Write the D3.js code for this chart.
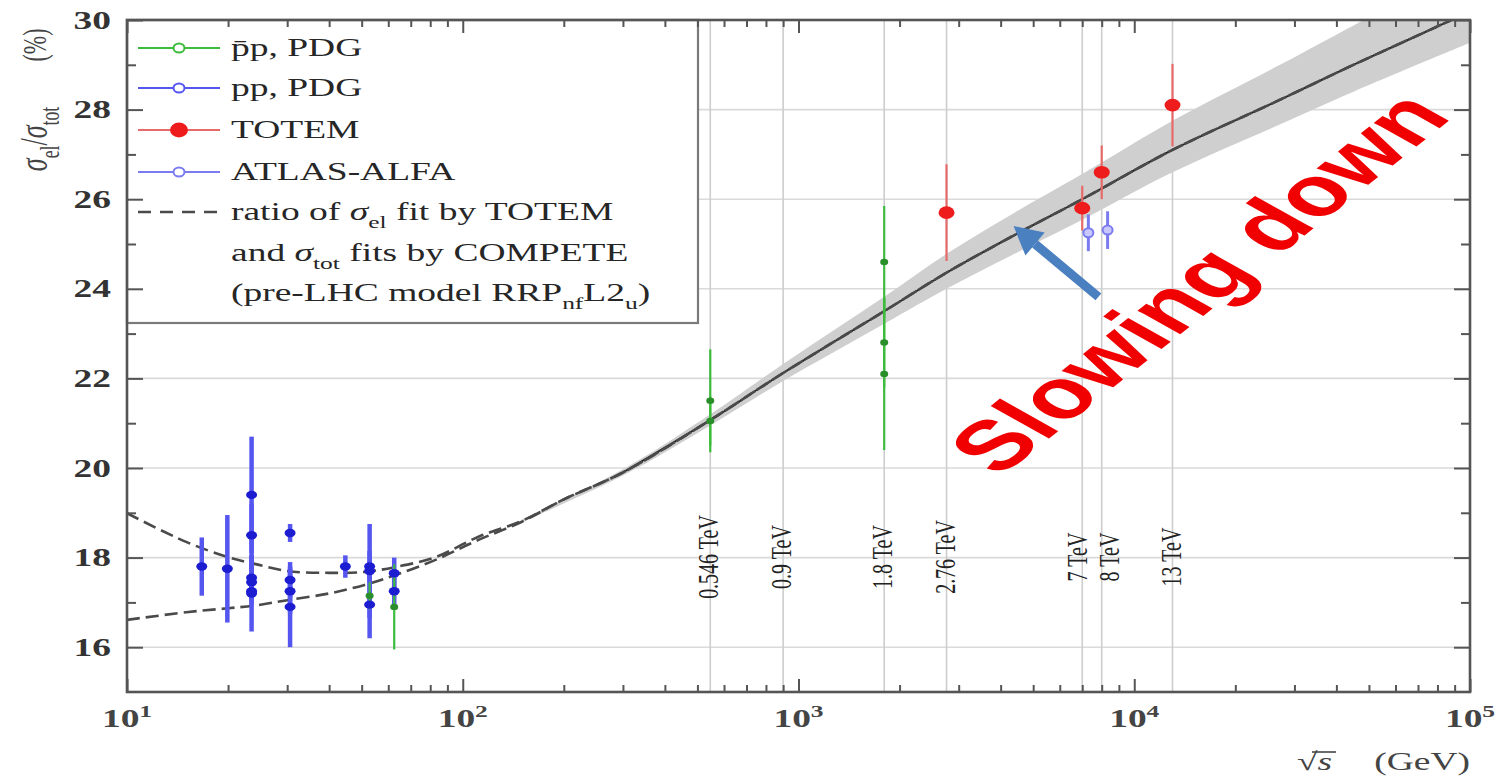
<!DOCTYPE html>
<html><head><meta charset="utf-8">
<script src="https://cdn.jsdelivr.net/npm/d3@7"></script>
<style>body{margin:0;background:#fff}svg{display:block}</style>
</head><body>
<svg id="c" width="1502" height="777"></svg>
<script>
// ---------- data ----------
const fitEnergy = [10, 15, 20, 24, 30, 40, 51, 63, 83, 111, 150, 200, 300, 546, 900, 1800, 2760, 4400, 7000, 13000, 27000, 45000, 76000, 100000];
const fitUpper  = [18.99, 18.35, 18.01, 17.86, 17.70, 17.66, 17.68, 17.79, 18.01, 18.46, 18.82, 19.30, 19.90, 21.07, 22.12, 23.50, 24.36, 25.20, 26.00, 27.10, 28.21, 29.00, 29.78, 30.19];
const fitLower  = [16.61, 16.78, 16.87, 16.93, 17.05, 17.20, 17.39, 17.61, 17.95, 18.39, 18.80, 19.30, 19.90, 21.07, 22.12, 23.50, 24.36, 25.20, 26.00, 27.10, 28.21, 29.00, 29.78, 30.19];

const bandEnergy = [150, 300, 546, 900, 1800, 2760, 4400, 7000, 13000, 27000, 45000, 100000];
const bandHigh   = [18.85, 19.97, 21.20, 22.32, 23.82, 24.78, 25.70, 26.56, 27.75, 28.99, 29.88, 31.24];
const bandLow    = [18.79, 19.83, 20.95, 21.94, 23.22, 24.00, 24.78, 25.54, 26.60, 27.66, 28.40, 29.49];

// p̄p, PDG (green)
const pbarpEnergy = [52.8, 62.5, 546, 546, 1800, 1800, 1800];
const pbarpValue  = [17.15, 16.90, 21.50, 21.05, 24.60, 22.80, 22.10];
const pbarpError  = [0.30, 0.95, 1.15, 0.55, 1.25, 1.00, 1.70];

// pp, PDG (blue)
const ppEnergy = [16.7, 19.9, 23.5, 23.5, 23.5, 23.5, 23.5, 23.5, 30.6, 30.6, 30.6, 30.6, 44.7, 52.8, 52.8, 52.8, 62.5, 62.5];
const ppValue  = [17.80, 17.75, 19.40, 18.50, 17.55, 17.45, 17.25, 17.20, 18.55, 17.50, 17.25, 16.90, 17.80, 17.80, 17.70, 16.95, 17.65, 17.25];
const ppError  = [0.65, 1.20, 1.30, 0.70, 0.50, 0.40, 0.30, 0.85, 0.20, 0.40, 0.50, 0.90, 0.25, 0.35, 1.05, 0.75, 0.35, 0.40];

// TOTEM
const totemEnergy = [2760, 7000, 8000, 13000];
const totemValue  = [25.70, 25.80, 26.60, 28.10];
const totemError  = [1.08, 0.50, 0.60, 0.92];

// ATLAS-ALFA
const alfaEnergy = [7300, 8330];
const alfaValue  = [25.25, 25.31];
const alfaError  = [0.41, 0.42];

// reference energies
const markEnergy  = [546, 900, 1800, 2760, 7000, 8000, 13000];
const markLabel   = ["0.546 TeV", "0.9 TeV", "1.8 TeV", "2.76 TeV", "7 TeV", "8 TeV", "13 TeV"];
const markLabelDx = [0, 0, 0, 0, -3, 9, 0];

// ticks
const yMajor = [16, 18, 20, 22, 24, 26, 28, 30];
const yMinor = [17, 19, 21, 23, 25, 27, 29];
const yGrid  = [16, 18, 20, 22, 24, 26, 28];
const xExponents = [1, 2, 3, 4, 5];

// annotation (data coordinates)
const arrowTail = [7820, 23.82];
const arrowTip  = [4370, 25.40];
const noteAt    = [15500, 24.15];
const noteText  = "Slowing down";

// ---------- layout ----------
const X0 = 127, X1 = 1470, Y0 = 692, Y1 = 20;
const SX = 1.5;                // horizontal stretch of the source picture
const SERIF = "'Liberation Serif','DejaVu Serif',serif";
const SANS = "'Liberation Sans',Arial,sans-serif";
const C = {green:'#3dbb3d', greenDot:'#2a8f2a', blue:'#5555f0', blueDot:'#1c1cd0',
           red:'#ee1c1c', redBar:'#e66a6a', alfa:'#7b7bf0', frame:'#555', grid:'#dadada',
           band:'#cfcfcf', dash:'#4a4a4a', text:'#262626'};

const svg = d3.select('#c');
const x = d3.scaleLog().domain([10, 1e5]).range([X0, X1]);
const y = d3.scaleLinear().domain([15, 30]).range([Y0, Y1]);

svg.append('rect').attr('width', 1502).attr('height', 777).attr('fill', '#fff');
svg.append('clipPath').attr('id', 'clip').append('rect')
  .attr('x', X0).attr('y', Y1).attr('width', X1 - X0).attr('height', Y0 - Y1);

function rich(t, parts, fs) {
  let shift = 0;
  parts.forEach(p => {
    const ts = t.append('tspan').text(p.t);
    if (p.it) ts.attr('font-style', 'italic');
    const target = p.sub ? fs * 0.32 : (p.sup ? -fs * 0.42 : 0);
    if (target !== shift) { ts.attr('dy', target - shift); shift = target; }
    if (p.sub || p.sup) ts.attr('font-size', fs * 0.68);
  });
}
function stext(parent, px, py, o) {
  const g = parent.append('g')
    .attr('transform', `translate(${px},${py}) scale(${o.sx || SX},1)` + (o.rot ? ` rotate(${o.rot})` : ''));
  const t = g.append('text').attr('font-family', o.font || SERIF).attr('font-size', o.fs || 25)
    .attr('fill', o.fill || C.text).attr('text-anchor', o.anchor || 'start');
  if (o.weight) t.attr('font-weight', o.weight);
  if (o.baseline) t.attr('dominant-baseline', o.baseline);
  if (o.parts) rich(t, o.parts, o.fs || 25); else t.text(o.text);
  return t;
}

// ---------- grid ----------
const gGrid = svg.append('g');
gGrid.selectAll('line.h').data(yGrid).join('line')
  .attr('x1', X0).attr('x2', X1).attr('y1', d => y(d)).attr('y2', d => y(d))
  .attr('stroke', C.grid).attr('stroke-width', 1.6);
gGrid.selectAll('line.v').data(markEnergy).join('line')
  .attr('x1', d => x(d)).attr('x2', d => x(d)).attr('y1', Y1).attr('y2', Y0)
  .attr('stroke', '#cdcdcd').attr('stroke-width', 1.6);
markEnergy.forEach((e, i) => {
  stext(svg, x(e) + 8 + markLabelDx[i], 557, {text: markLabel[i], fs: 20, rot: -90, anchor: 'middle', fill: '#222'});
});

// ---------- band and fit curves ----------
const gPlot = svg.append('g').attr('clip-path', 'url(#clip)');
const bandData = bandEnergy.map((e, i) => [e, bandLow[i], bandHigh[i]]);
gPlot.append('path').datum(bandData)
  .attr('d', d3.area().x(d => x(d[0])).y0(d => y(d[1])).y1(d => y(d[2])).curve(d3.curveCatmullRom))
  .attr('fill', C.band);
const line = d3.line().x(d => x(d[0])).y(d => y(d[1])).curve(d3.curveCatmullRom);
const upper = fitEnergy.map((e, i) => [e, fitUpper[i]]);
const lower = fitEnergy.map((e, i) => [e, fitLower[i]]);
gPlot.append('path').datum(upper.filter(d => d[0] >= 300)).attr('d', line)
  .attr('fill', 'none').attr('stroke', '#1e1e1e').attr('stroke-width', 1.8);
[upper, lower].forEach(dat => {
  gPlot.append('path').datum(dat).attr('d', line)
    .attr('fill', 'none').attr('stroke', C.dash).attr('stroke-width', 2.6)
    .attr('stroke-dasharray', '13,6');
});

// ---------- data points ----------
function errSeries(E, V, S, barColor, barW) {
  gPlot.append('g').selectAll('line').data(E.map((e, i) => [e, V[i], S[i]])).join('line')
    .attr('x1', d => x(d[0])).attr('x2', d => x(d[0]))
    .attr('y1', d => y(d[1] - d[2])).attr('y2', d => y(d[1] + d[2]))
    .attr('stroke', barColor).attr('stroke-width', barW);
}
errSeries(ppEnergy, ppValue, ppError, C.blue, 4.5);
errSeries(pbarpEnergy, pbarpValue, pbarpError, C.green, 2.2);
errSeries(totemEnergy, totemValue, totemError, C.redBar, 2.2);
errSeries(alfaEnergy, alfaValue, alfaError, C.alfa, 3);

gPlot.append('g').selectAll('ellipse').data(ppEnergy.map((e, i) => [e, ppValue[i]])).join('ellipse')
  .attr('cx', d => x(d[0])).attr('cy', d => y(d[1])).attr('rx', 5.5).attr('ry', 4.2)
  .attr('fill', C.blueDot);
gPlot.append('g').selectAll('ellipse').data(pbarpEnergy.map((e, i) => [e, pbarpValue[i]])).join('ellipse')
  .attr('cx', d => x(d[0])).attr('cy', d => y(d[1])).attr('rx', 4).attr('ry', 3.2)
  .attr('fill', C.greenDot);
gPlot.append('g').selectAll('ellipse').data(totemEnergy.map((e, i) => [e, totemValue[i]])).join('ellipse')
  .attr('cx', d => x(d[0])).attr('cy', d => y(d[1])).attr('rx', 8).attr('ry', 6.3)
  .attr('fill', C.red);
gPlot.append('g').selectAll('ellipse').data(alfaEnergy.map((e, i) => [e, alfaValue[i]])).join('ellipse')
  .attr('cx', d => x(d[0])).attr('cy', d => y(d[1])).attr('rx', 5).attr('ry', 4.5)
  .attr('fill', '#c8c8ff').attr('stroke', C.alfa).attr('stroke-width', 2);

// ---------- legend ----------
const legendRows = [
  {kind: 'open', color: C.green, parts: [{t: 'p\u0304p, PDG'}]},
  {kind: 'open', color: C.blue, parts: [{t: 'pp, PDG'}]},
  {kind: 'filled', color: C.red, parts: [{t: 'TOTEM'}]},
  {kind: 'open', color: C.alfa, parts: [{t: 'ATLAS-ALFA'}]},
  {kind: 'dash', parts: [{t: 'ratio of '}, {t: 'σ', it: true}, {t: 'el', sub: true}, {t: ' fit by TOTEM'}]},
  {kind: 'none', parts: [{t: 'and '}, {t: 'σ', it: true}, {t: 'tot', sub: true}, {t: ' fits by COMPETE'}]},
  {kind: 'none', parts: [{t: '(pre-LHC model RRP'}, {t: 'nf', sub: true}, {t: 'L2'}, {t: 'u', sub: true}, {t: ')'}]}
];
const legendY = [48, 88, 130, 172, 212, 253, 293];
const gL = svg.append('g');
gL.append('rect').attr('x', X0).attr('y', Y1).attr('width', 571).attr('height', 303)
  .attr('fill', '#fff').attr('stroke', '#7a7a7a').attr('stroke-width', 2.2);
legendRows.forEach((r, i) => {
  const ly = legendY[i];
  if (r.kind === 'open' || r.kind === 'filled') {
    gL.append('line').attr('x1', 138).attr('x2', 220).attr('y1', ly).attr('y2', ly)
      .attr('stroke', r.kind === 'filled' ? C.redBar : r.color).attr('stroke-width', 2);
    gL.append('ellipse').attr('cx', 179).attr('cy', ly)
      .attr('rx', r.kind === 'filled' ? 8 : 5.5).attr('ry', r.kind === 'filled' ? 6.5 : 4.5)
      .attr('fill', r.kind === 'filled' ? r.color : '#fff')
      .attr('stroke', r.color).attr('stroke-width', 2);
  } else if (r.kind === 'dash') {
    gL.append('line').attr('x1', 138).attr('x2', 220).attr('y1', ly).attr('y2', ly)
      .attr('stroke', C.dash).attr('stroke-width', 2.4).attr('stroke-dasharray', '13,9');
  }
  stext(gL, 231, ly + 8, {parts: r.parts, fs: 25});
});

// ---------- axes ----------
const gAx = svg.append('g');
function styleAxis(g) {
  g.select('.domain').remove();
  g.selectAll('line').attr('stroke', C.frame).attr('stroke-width', 2);
}
const xAll = x.ticks();
const xMajorVals = xExponents.map(p => Math.pow(10, p));
const xMinorVals = xAll.filter(v => !xMajorVals.some(m => Math.abs(m - v) < 1e-6));
gAx.append('g').attr('transform', `translate(0,${Y0})`)
  .call(d3.axisBottom(x).tickValues(xMajorVals).tickSize(-13).tickFormat('')).call(styleAxis);
gAx.append('g').attr('transform', `translate(0,${Y0})`)
  .call(d3.axisBottom(x).tickValues(xMinorVals).tickSize(-7).tickFormat('')).call(styleAxis);
gAx.append('g').attr('transform', `translate(0,${Y1})`)
  .call(d3.axisTop(x).tickValues(xMajorVals).tickSize(-13).tickFormat('')).call(styleAxis);
gAx.append('g').attr('transform', `translate(0,${Y1})`)
  .call(d3.axisTop(x).tickValues(xMinorVals).tickSize(-7).tickFormat('')).call(styleAxis);
gAx.append('g').attr('transform', `translate(${X0},0)`)
  .call(d3.axisLeft(y).tickValues(yMajor).tickSize(-16).tickFormat('')).call(styleAxis);
gAx.append('g').attr('transform', `translate(${X0},0)`)
  .call(d3.axisLeft(y).tickValues(yMinor).tickSize(-9).tickFormat('')).call(styleAxis);
gAx.append('g').attr('transform', `translate(${X1},0)`)
  .call(d3.axisRight(y).tickValues(yMajor).tickSize(-16).tickFormat('')).call(styleAxis);
gAx.append('g').attr('transform', `translate(${X1},0)`)
  .call(d3.axisRight(y).tickValues(yMinor).tickSize(-9).tickFormat('')).call(styleAxis);
gAx.append('rect').attr('x', X0).attr('y', Y1).attr('width', X1 - X0).attr('height', Y0 - Y1)
  .attr('fill', 'none').attr('stroke', C.frame).attr('stroke-width', 2.6);

// tick labels
yMajor.forEach(v => {
  stext(gAx, X0 - 16, y(v) + 8.5, {text: String(v), fs: 25, weight: 'bold', anchor: 'end', fill: '#333'});
});
xExponents.forEach(p => {
  stext(gAx, x(Math.pow(10, p)), 727,
    {parts: [{t: '10'}, {t: String(p), sup: true}], fs: 25, weight: 'bold', anchor: 'middle', fill: '#444'});
});

// axis titles
stext(svg, 47, 139, {parts: [{t: 'σ', it: true}, {t: 'el', sub: true}, {t: '/'}, {t: 'σ', it: true}, {t: 'tot', sub: true}],
  fs: 26, rot: -90, anchor: 'middle', fill: '#444'});
stext(svg, 46, 45, {text: '(%)', fs: 22, rot: -90, anchor: 'middle', fill: '#444'});
stext(svg, 1297, 770, {parts: [{t: '√'}, {t: 's', it: true}], fs: 25, fill: '#444'});
svg.append('line').attr('x1', 1312).attr('x2', 1336).attr('y1', 752).attr('y2', 752)
  .attr('stroke', '#444').attr('stroke-width', 1.6);
stext(svg, 1470, 770, {text: '(GeV)', fs: 25, anchor: 'end', fill: '#444'});

// ---------- annotation ----------
const tail = [x(arrowTail[0]), y(arrowTail[1])];
const tip = [x(arrowTip[0]), y(arrowTip[1])];
const ang = Math.atan2(tip[1] - tail[1], tip[0] - tail[0]);
const headL = 28, headW = 15;
const base = [tip[0] - headL * Math.cos(ang), tip[1] - headL * Math.sin(ang)];
svg.append('line').attr('x1', tail[0]).attr('y1', tail[1]).attr('x2', base[0]).attr('y2', base[1])
  .attr('stroke', '#4a7fc0').attr('stroke-width', 9);
svg.append('polygon').attr('fill', '#4a7fc0').attr('points', [
  tip,
  [base[0] + headW * Math.sin(ang), base[1] - headW * Math.cos(ang)],
  [base[0] - headW * Math.sin(ang), base[1] + headW * Math.cos(ang)]
].map(p => p.join(',')).join(' '));

stext(svg, x(noteAt[0]), y(noteAt[1]), {text: noteText, fs: 70, font: SANS, weight: 'bold',
  rot: -50, anchor: 'middle', baseline: 'central', fill: '#f00000'});
</script>
</body></html>
